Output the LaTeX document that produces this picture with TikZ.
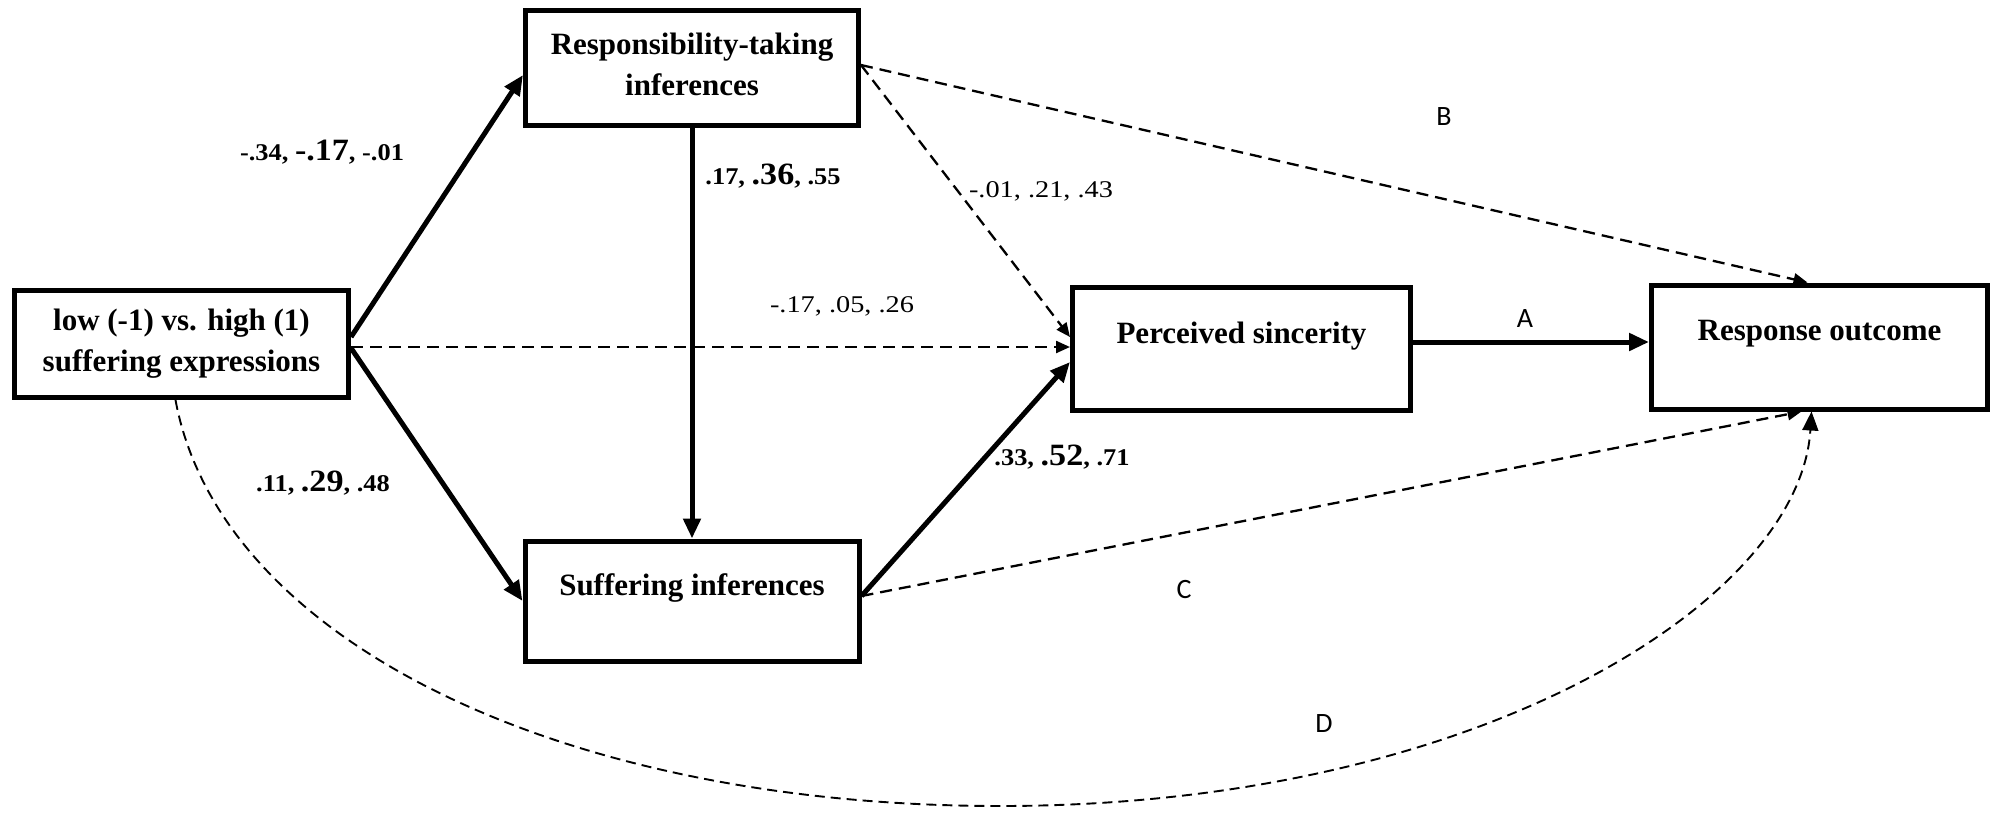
\documentclass[tikz,border=0pt]{standalone}
\usepackage{fontspec}
\usepackage{graphicx}
\setmainfont{Liberation Serif}
\newfontfamily\labsans{Carlito}
\usetikzlibrary{arrows.meta}
\newcommand{\bl}[3]{\scalebox{1.1}[1]{#1, {\fontsize{31}{32}\selectfont #2}, #3}}
\newcommand{\rl}[1]{\scalebox{1.18}[1]{#1}}
\begin{document}
\begin{tikzpicture}[x=1pt,y=-1pt,
  boxnode/.style={draw,line width=5pt,inner sep=0pt},
  boxtxt/.style={font=\bfseries\fontsize{31}{41}\selectfont,align=center,inner sep=0pt},
  solidarrow/.style={line width=5pt,-{Triangle[length=20pt,width=17pt]}},
  dasharrow/.style={line width=2.3pt,dash pattern=on 12pt off 7pt,-{Triangle[length=14pt,width=12pt]}},
  curvearrow/.style={line width=1.9pt,dash pattern=on 10pt off 6pt,-{Triangle[length=19pt,width=16pt]}},
  coef/.style={font=\fontsize{24}{28}\selectfont,inner sep=0pt},
  bcoef/.style={font=\bfseries\fontsize{24}{28}\selectfont,inner sep=0pt},
  letter/.style={font=\labsans\fontsize{28}{32}\selectfont,inner sep=0pt}
]
\useasboundingbox (0,0) rectangle (1990,815);

% boxes
\node[boxnode,minimum width=334pt,minimum height=107pt] (low) at (181.5,344) {};
\node[boxnode,minimum width=333pt,minimum height=115pt] (rt) at (692,68) {};
\node[boxnode,minimum width=334pt,minimum height=120pt] (suf) at (692,601) {};
\node[boxnode,minimum width=338pt,minimum height=123pt] (ps) at (1241.5,349) {};
\node[boxnode,minimum width=336pt,minimum height=124pt] (ro) at (1819.5,347) {};

% box texts
\node[boxtxt] (lowt) at (low.center) {low (-1) vs. high (1)\\suffering expressions};
\node[boxtxt] (rtt) at ([yshift=4pt]rt.center) {Responsibility-taking\\inferences};
\node[boxtxt] (suft) at ([yshift=13pt]suf.center) {Suffering inferences};
\node[boxtxt] (pst) at ([yshift=13pt]ps.center) {Perceived sincerity};
\node[boxtxt] (rot) at ([yshift=13pt]ro.center) {Response outcome};

% connectors
\draw[solidarrow] ([yshift=7pt]low.east) -- ([yshift=-7pt]rt.west);
\draw[solidarrow] ([yshift=-4pt]low.east) -- (suf.west);
\draw[dasharrow] ([yshift=-3pt]low.east) -- ([yshift=2pt]ps.west);
\draw[solidarrow] (rt.south) -- (suf.north);
\draw[dasharrow] ([yshift=3pt]rt.east) -- ([yshift=12pt]ps.west);
\draw[solidarrow] ([yshift=5pt]suf.east) -- ([yshift=-13pt]ps.west);
\draw[dasharrow] ([yshift=3pt]rt.east) -- ([xshift=-12pt]ro.north);
\draw[solidarrow] ([yshift=7pt]ps.east) -- ([yshift=5pt]ro.west);
\draw[dasharrow] ([yshift=5pt]suf.east) -- ([xshift=-18pt]ro.south);
\coordinate (dlow) at (1000,806);
\draw[curvearrow] ([xshift=-6pt]low.south) .. controls (220,640) and (560,806) .. (dlow)
  .. controls (1480,806) and (1800,600) .. ([xshift=-8pt]ro.south);

% coefficient labels
\node[bcoef] (l1) at (322,152) {\bl{-.34}{-.17}{-.01}};
\node[bcoef] (l2) at (773,176) {\bl{.17}{.36}{.55}};
\node[coef] (l3) at (1041,191) {\rl{-.01, .21, .43}};
\node[coef] (l4) at (842,306) {\rl{-.17, .05, .26}};
\node[bcoef] (l5) at (323,483) {\bl{.11}{.29}{.48}};
\node[bcoef] (l6) at (1062,457) {\bl{.33}{.52}{.71}};

% path letters
\node[letter] (lb) at (1444,117) {B};
\node[letter] (la) at (1525,319) {A};
\node[letter] (lc) at (1184,589) {C};
\node[letter] (ld) at (1324,724) {D};
\end{tikzpicture}
\end{document}
